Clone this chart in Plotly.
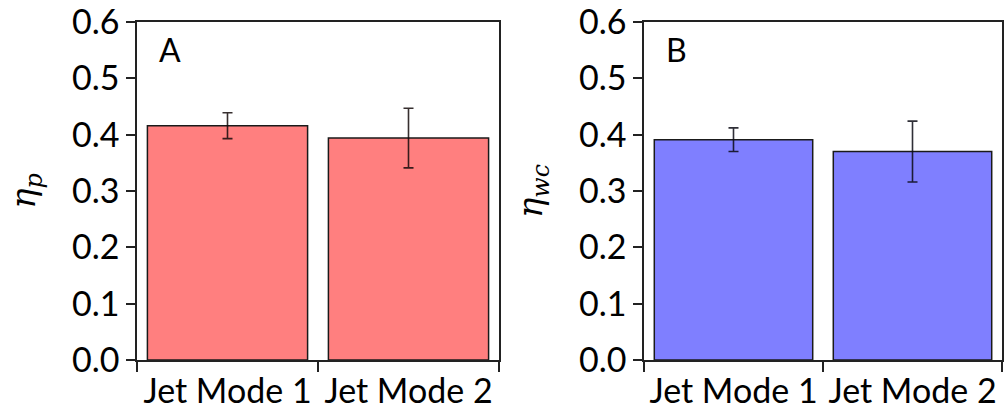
import plotly.graph_objects as go

# Efficiency by jet mode, mean ± error
categories = ["Jet Mode 1", "Jet Mode 2"]
eta_p = [0.416, 0.394]
eta_p_err = [0.023, 0.053]
eta_wc = [0.391, 0.370]
eta_wc_err = [0.021, 0.054]

panel_labels = ["A", "B"]
y_titles = ["<i>η</i><sub><i>p</i></sub>", "<i>η</i><sub><i>wc</i></sub>"]
y_ticks = [0.0, 0.1, 0.2, 0.3, 0.4, 0.5, 0.6]
y_tick_text = ["0.0", "0.1", "0.2", "0.3", "0.4", "0.5", "0.6"]

W, H = 1004, 410
FONT = "Lato, 'Open Sans', sans-serif"

fig = go.Figure()

fig.add_trace(go.Bar(
    x=categories, y=eta_p,
    marker=dict(color="#FF7F7F", line=dict(color="#1a1a1a", width=1.5)),
    error_y=dict(type="data", array=eta_p_err, visible=True,
                 color="rgba(20,10,10,0.85)", thickness=1.6, width=5),
    width=0.885, xaxis="x", yaxis="y", showlegend=False,
))
fig.add_trace(go.Bar(
    x=categories, y=eta_wc,
    marker=dict(color="#7F7FFF", line=dict(color="#1a1a1a", width=1.5)),
    error_y=dict(type="data", array=eta_wc_err, visible=True,
                 color="rgba(10,10,20,0.85)", thickness=1.6, width=5),
    width=0.885, xaxis="x2", yaxis="y2", showlegend=False,
))

xaxis_common = dict(
    range=[-0.5, 1.5], tickson="boundaries", ticks="outside", ticklen=10,
    tickwidth=1.5, tickcolor="#222", showline=True, linecolor="#222",
    linewidth=1.5, mirror=True, showgrid=False, zeroline=False,
    tickangle=0, automargin=False, ticklabeloverflow="allow",
    tickfont=dict(family=FONT, size=34, color="#000"),
)
yaxis_common = dict(
    range=[0, 0.6], tickvals=y_ticks, ticktext=y_tick_text,
    ticks="outside", ticklen=9, tickwidth=1.5, tickcolor="#222",
    showline=True, linecolor="#222", linewidth=1.5, mirror=True,
    showgrid=False, zeroline=False, automargin=False,
    ticklabeloverflow="allow",
    tickfont=dict(family=FONT, size=34, color="#000"),
    title=dict(font=dict(family="'DejaVu Serif', serif", size=34, color="#000"),
               standoff=26),
)

fig.update_layout(
    width=W, height=H,
    margin=dict(l=0, r=0, t=22, b=50),
    paper_bgcolor="white", plot_bgcolor="white",
    xaxis=dict(domain=[137 / W, 499 / W], anchor="y", **xaxis_common),
    yaxis=dict(domain=[0, 1], anchor="x", **yaxis_common),
    xaxis2=dict(domain=[644 / W, 1002 / W], anchor="y2", **xaxis_common),
    yaxis2=dict(domain=[0, 1], anchor="x2", **yaxis_common),
    bargap=0.115,
)
fig.layout.yaxis.title.text = y_titles[0]
fig.layout.yaxis2.title.text = y_titles[1]

for xref, yref, label in [("x domain", "y domain", panel_labels[0]),
                          ("x2 domain", "y2 domain", panel_labels[1])]:
    fig.add_annotation(
        x=0.055, y=0.92, xref=xref, yref=yref, text=label, showarrow=False,
        xanchor="left", yanchor="middle",
        font=dict(family=FONT, size=32, color="#000"),
    )

fig.write_html("out.html")
